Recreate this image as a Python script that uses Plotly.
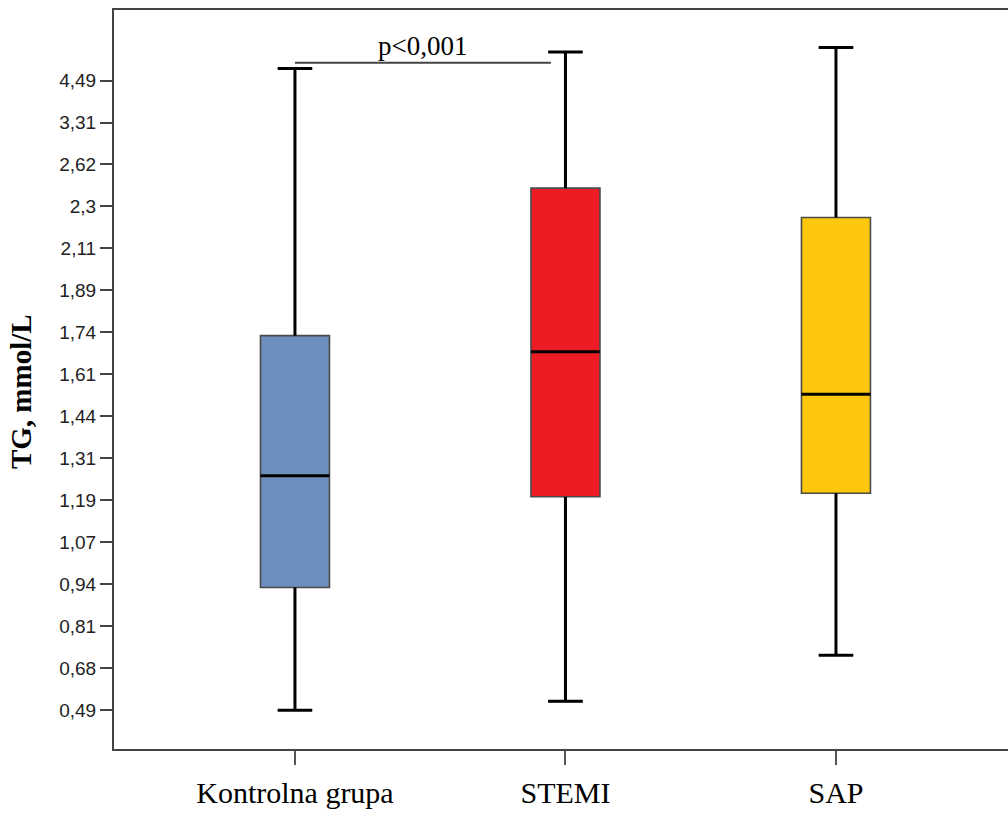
import numpy as np
import plotly.graph_objects as go

# ---------------- data (mmol/L) ----------------
groups = ["Kontrolna grupa", "STEMI", "SAP"]
lower_whisker = [0.49, 0.53, 0.72]
q1_vals = [0.93, 1.20, 1.21]
median_vals = [1.26, 1.68, 1.53]
q3_vals = [1.73, 2.44, 2.25]
upper_whisker = [4.83, 5.29, 5.42]
fill_colors = ["#6D8FBD", "#ED1C24", "#FDC70C"]

# y-axis tick values (the original axis spaces these evenly)
y_tick_values = [0.49, 0.68, 0.81, 0.94, 1.07, 1.19, 1.31, 1.44,
                 1.61, 1.74, 1.89, 2.11, 2.3, 2.62, 3.31, 4.49]

# significance bracket
sig_text = "p<0,001"
sig_level = 4.99          # mmol/L
sig_from, sig_to = 0, 0.946

# ---------------- custom (evenly spaced tick) scale ----------------
tick_pos = np.arange(len(y_tick_values), dtype=float)
tv = np.array(y_tick_values)


def to_axis(v):
    v = np.asarray(v, dtype=float)
    out = np.interp(v, tv, tick_pos)
    hi = v > tv[-1]
    out = np.where(hi, tick_pos[-1] + (v - tv[-1]) / (tv[-1] - tv[-2]), out)
    lo = v < tv[0]
    out = np.where(lo, (v - tv[0]) / (tv[1] - tv[0]), out)
    return out


BOX_W = 0.255
CAP_HALF = BOX_W * 0.5 / 2

fig = go.Figure()

for i, g in enumerate(groups):
    fig.add_trace(go.Box(
        x=[i],
        q1=[float(to_axis(q1_vals[i]))],
        median=[float(to_axis(median_vals[i]))],
        q3=[float(to_axis(q3_vals[i]))],
        lowerfence=[float(to_axis(lower_whisker[i]))],
        upperfence=[float(to_axis(upper_whisker[i]))],
        fillcolor=fill_colors[i],
        line=dict(color="#4a4a4a", width=1.6),
        width=BOX_W,
        whiskerwidth=0.5,
        boxpoints=False,
        name=g,
        showlegend=False,
        hoverinfo="skip",
    ))

# whiskers, caps and medians drawn in thick black on top
wx, wy, mx, my = [], [], [], []
for i in range(len(groups)):
    lo, a, m, b, hi = [float(to_axis(v)) for v in
                       (lower_whisker[i], q1_vals[i], median_vals[i], q3_vals[i], upper_whisker[i])]
    wx += [i, i, None, i - CAP_HALF, i + CAP_HALF, None,
           i, i, None, i - CAP_HALF, i + CAP_HALF, None]
    wy += [b, hi, None, hi, hi, None, a, lo, None, lo, lo, None]
    mx += [i - BOX_W / 2, i + BOX_W / 2, None]
    my += [m, m, None]

fig.add_trace(go.Scatter(x=wx, y=wy, mode="lines",
                         line=dict(color="black", width=3),
                         showlegend=False, hoverinfo="skip"))
fig.add_trace(go.Scatter(x=mx, y=my, mode="lines",
                         line=dict(color="black", width=3),
                         showlegend=False, hoverinfo="skip"))

sig_y = float(to_axis(sig_level))
fig.add_shape(type="line", xref="x", yref="y", x0=sig_from, x1=sig_to,
              y0=sig_y, y1=sig_y, line=dict(color="#444444", width=2))
fig.add_annotation(text=sig_text, xref="x", yref="y",
                   x=(sig_from + sig_to) / 2, y=sig_y,
                   xanchor="center", yanchor="bottom", showarrow=False,
                   font=dict(family="Liberation Serif, Times New Roman, serif",
                             size=27, color="black"))

fig.add_annotation(text="<b>TG, mmol/L</b>", xref="paper", yref="paper",
                   x=(21 - 114) / 894, y=0.483, xanchor="center", yanchor="middle",
                   textangle=-90, showarrow=False,
                   font=dict(family="Liberation Serif, Times New Roman, serif",
                             size=29, color="black"))

fig.update_layout(
    width=1008, height=813,
    margin=dict(l=114, r=0, t=10, b=64),
    plot_bgcolor="white", paper_bgcolor="white",
    xaxis=dict(
        range=[-0.669, 2.636],
        tickvals=list(range(len(groups))), ticktext=groups,
        ticks="outside", ticklen=14, tickwidth=2, tickcolor="#555555",
        showline=True, linecolor="#444444", linewidth=2, mirror=True,
        showgrid=False, zeroline=False,
        ticklabelstandoff=2,
        tickfont=dict(family="Liberation Serif, Times New Roman, serif",
                      size=30, color="black"),
    ),
    yaxis=dict(
        range=[-0.924, 16.68],
        tickvals=list(tick_pos),
        ticktext=[str(v).replace(".", ",") for v in y_tick_values],
        ticks="outside", ticklen=12, tickwidth=2, tickcolor="#444444",
        showline=True, linecolor="#444444", linewidth=2,
        showgrid=False, zeroline=False,
        tickfont=dict(family="Liberation Sans, Arial, sans-serif",
                      size=19, color="#222222"),
    ),
)

fig.write_html("out.html")
